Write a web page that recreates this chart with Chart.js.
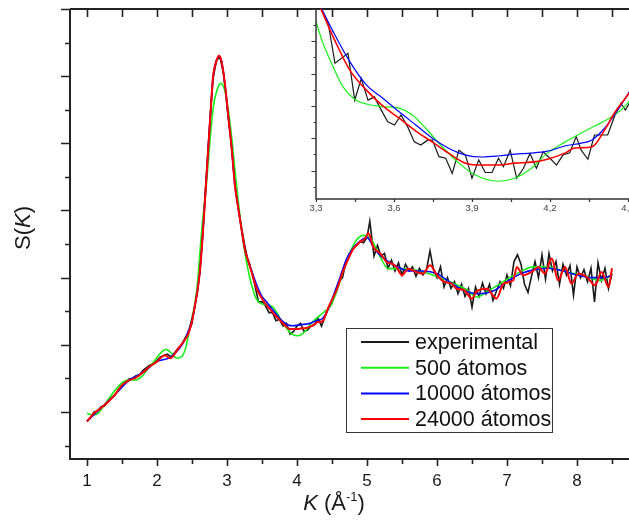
<!DOCTYPE html>
<html>
<head>
<meta charset="utf-8">
<script src="https://cdn.jsdelivr.net/npm/chart.js@4.4.1/dist/chart.umd.min.js"></script>
<style>
html, body { margin: 0; padding: 0; background: #fff; }
#wrap { position: relative; width: 629px; height: 520px; overflow: hidden; }
#graph { position: absolute; left: 0; top: 0; }
#inset { position: absolute; left: 290px; top: 0; }
</style>
</head>
<body>
<div id="wrap">
<canvas id="graph" width="629" height="520"></canvas>
<canvas id="inset" width="339" height="220"></canvas>
</div>
<script>
// series names and colours
const seriesLabels = ['experimental', '500 átomos', '10000 átomos', '24000 átomos'];
const seriesColors = ['#1a1a1a', '#19f019', '#0000ff', '#ff0000'];

// tick values
const xTicks = [1, 2, 3, 4, 5, 6, 7, 8];
const xMinorTicks = [1.5, 2.5, 3.5, 4.5, 5.5, 6.5, 7.5, 8.5];
const yTicks = [0.5, 1, 1.5, 2, 2.5, 3, 3.5];
const yMinorTicks = [0.25, 0.75, 1.25, 1.75, 2.25, 2.75, 3.25];
const insetXTicks = [3.3, 3.6, 3.9, 4.2, 4.5];
const insetXMinor = [3.45, 3.75, 4.05, 4.35];
const insetYTicks = [1.1, 1.2, 1.3, 1.4, 1.5, 1.6];
const insetYMinor = [1.05, 1.15, 1.25, 1.35, 1.45, 1.55];

// experimental S(K)
const kExp = [
  1.00, 1.05, 1.10, 1.15, 1.20, 1.25, 1.30, 1.35, 1.40, 1.45,
  1.50, 1.55, 1.60, 1.65, 1.70, 1.75, 1.80, 1.85, 1.90, 1.95,
  2.00, 2.05, 2.10, 2.15, 2.20, 2.25, 2.30, 2.35, 2.40, 2.45,
  2.50, 2.55, 2.60, 2.65, 2.70, 2.75, 2.80, 2.85, 2.90, 2.95,
  3.00, 3.05, 3.10, 3.15, 3.20, 3.25, 3.30, 3.35, 3.40, 3.45,
  3.50, 3.55, 3.60, 3.65, 3.70, 3.75, 3.80, 3.85, 3.90, 3.95,
  4.00, 4.05, 4.10, 4.15, 4.20, 4.25, 4.30, 4.35, 4.40, 4.45,
  4.50, 4.55, 4.60, 4.65, 4.70, 4.75, 4.80, 4.85, 4.90, 4.95,
  5.00, 5.04, 5.10, 5.15, 5.20, 5.25, 5.30, 5.35, 5.40, 5.45,
  5.50, 5.55, 5.60, 5.65, 5.70, 5.75, 5.80, 5.85, 5.90, 5.95,
  6.00, 6.05, 6.10, 6.15, 6.20, 6.25, 6.30, 6.35, 6.40, 6.45,
  6.50, 6.55, 6.60, 6.65, 6.70, 6.75, 6.80, 6.85, 6.90, 6.95,
  7.00, 7.05, 7.10, 7.15, 7.20, 7.25, 7.30, 7.35, 7.40, 7.45,
  7.50, 7.55, 7.60, 7.65, 7.70, 7.75, 7.80, 7.85, 7.90, 7.95,
  8.00, 8.05, 8.10, 8.15, 8.20, 8.25, 8.30, 8.35, 8.40, 8.45,
  8.50
];
const sExp = [
  0.43, 0.46, 0.50, 0.505, 0.54, 0.545, 0.58, 0.605, 0.625, 0.67,
  0.695, 0.72, 0.745, 0.75, 0.77, 0.775, 0.81, 0.83, 0.85, 0.86,
  0.885, 0.91, 0.92, 0.93, 0.91, 0.94, 0.975, 1.00, 1.05, 1.09,
  1.16, 1.32, 1.49, 1.80, 2.22, 2.62, 2.98, 3.12, 3.14, 3.02,
  2.78, 2.56, 2.27, 2.06, 1.89, 1.75, 1.62, 1.55, 1.44, 1.32,
  1.32, 1.29, 1.24, 1.24, 1.18, 1.19, 1.14, 1.16, 1.08, 1.10,
  1.14, 1.16, 1.10, 1.11, 1.14, 1.15, 1.20, 1.14, 1.21, 1.27,
  1.31, 1.40, 1.47, 1.50, 1.62, 1.68, 1.72, 1.74, 1.77, 1.76,
  1.80, 1.92, 1.66, 1.74, 1.66, 1.68, 1.57, 1.63, 1.55, 1.61,
  1.52, 1.60, 1.55, 1.58, 1.51, 1.57, 1.52, 1.56, 1.70, 1.56,
  1.50, 1.58, 1.43, 1.50, 1.42, 1.47, 1.38, 1.45, 1.36, 1.42,
  1.28, 1.43, 1.36, 1.46, 1.38, 1.45, 1.33, 1.40, 1.47, 1.42,
  1.52, 1.44, 1.62, 1.67, 1.60, 1.45, 1.39, 1.51, 1.62, 1.50,
  1.67, 1.49, 1.68, 1.55, 1.62, 1.45, 1.60, 1.52, 1.59, 1.37,
  1.58, 1.50, 1.56, 1.47, 1.57, 1.32, 1.61, 1.48, 1.57, 1.42,
  1.53
];

// experimental, finer sampling
const kExpZoom = [
  3.290, 3.315, 3.347, 3.373, 3.423, 3.449, 3.474, 3.500, 3.525, 3.551,
  3.576, 3.602, 3.627, 3.652, 3.678, 3.703, 3.729, 3.748, 3.773, 3.799,
  3.824, 3.850, 3.875, 3.900, 3.926, 3.951, 3.977, 4.002, 4.021, 4.047,
  4.072, 4.098, 4.123, 4.148, 4.174, 4.200, 4.225, 4.250, 4.276, 4.301,
  4.320, 4.346, 4.371, 4.397, 4.422, 4.448, 4.473, 4.490, 4.520
];
const sExpZoom = [
  1.660, 1.607, 1.556, 1.432, 1.463, 1.318, 1.385, 1.318, 1.328, 1.287,
  1.251, 1.241, 1.272, 1.236, 1.189, 1.179, 1.194, 1.194, 1.143, 1.138,
  1.091, 1.163, 1.148, 1.076, 1.133, 1.094, 1.094, 1.138, 1.112, 1.163,
  1.076, 1.107, 1.153, 1.107, 1.158, 1.138, 1.117, 1.148, 1.155, 1.205,
  1.163, 1.135, 1.210, 1.210, 1.210, 1.267, 1.308, 1.287, 1.330
];

// 500 atoms
const kGreen = [
  1.00, 1.09, 1.16, 1.233, 1.33, 1.424, 1.52, 1.59, 1.686, 1.78,
  1.876, 1.97, 2.067, 2.13, 2.21, 2.28, 2.353, 2.414, 2.47, 2.567,
  2.64, 2.71, 2.757, 2.804, 2.853, 2.91, 2.97, 3.02, 3.067, 3.114,
  3.16, 3.21, 3.257, 3.30, 3.327, 3.366, 3.404, 3.449, 3.494, 3.557,
  3.62, 3.671, 3.722, 3.786, 3.85, 3.913, 4.00, 4.066, 4.13, 4.19,
  4.257, 4.32, 4.38, 4.448, 4.49, 4.57, 4.66, 4.76, 4.85, 4.95,
  5.04, 5.19, 5.30, 5.47, 5.71, 5.95, 6.19, 6.42, 6.57, 6.71,
  6.90, 7.14, 7.38, 7.57, 7.85, 8.09, 8.33, 8.50
];
const sGreen = [
  0.49, 0.478, 0.49, 0.54, 0.614, 0.676, 0.725, 0.738, 0.738, 0.762,
  0.825, 0.886, 0.948, 0.966, 0.936, 0.90, 0.912, 0.985, 1.134, 1.40,
  1.86, 2.22, 2.52, 2.77, 2.89, 2.946, 2.89, 2.744, 2.545, 2.298,
  2.075, 1.852, 1.68, 1.561, 1.494, 1.421, 1.359, 1.321, 1.306, 1.298,
  1.293, 1.272, 1.231, 1.173, 1.123, 1.086, 1.067, 1.077, 1.108, 1.154,
  1.188, 1.216, 1.241, 1.272, 1.30, 1.40, 1.55, 1.69, 1.78, 1.815,
  1.80, 1.654, 1.567, 1.567, 1.555, 1.518, 1.468, 1.412, 1.356, 1.394,
  1.456, 1.53, 1.58, 1.58, 1.542, 1.518, 1.48, 1.518
];

// 10000 atoms
const kBlue = [
  1.00, 1.20, 1.40, 1.60, 1.80, 2.00, 2.20, 2.40, 2.52, 2.61,
  2.66, 2.71, 2.76, 2.80, 2.85, 2.886, 2.92, 2.97, 3.02, 3.07,
  3.11, 3.16, 3.21, 3.26, 3.315, 3.366, 3.43, 3.494, 3.557, 3.62,
  3.684, 3.748, 3.81, 3.875, 3.94, 4.00, 4.066, 4.13, 4.19, 4.257,
  4.32, 4.36, 4.41, 4.448, 4.49, 4.60, 4.70, 4.80, 4.90, 5.00,
  5.10, 5.20, 5.40, 5.60, 5.80, 6.00, 6.20, 6.40, 6.60, 6.80,
  7.00, 7.20, 7.40, 7.60, 7.80, 8.00, 8.20, 8.40, 8.50
];
const sBlue = [
  0.43, 0.53, 0.63, 0.735, 0.795, 0.875, 0.91, 1.04, 1.23, 1.53,
  1.87, 2.28, 2.69, 2.99, 3.115, 3.15, 3.115, 2.944, 2.69, 2.446,
  2.20, 2.02, 1.852, 1.70, 1.612, 1.53, 1.437, 1.365, 1.324, 1.282,
  1.241, 1.20, 1.169, 1.148, 1.142, 1.145, 1.151, 1.154, 1.160, 1.176,
  1.185, 1.194, 1.231, 1.272, 1.324, 1.48, 1.63, 1.72, 1.77, 1.80,
  1.72, 1.66, 1.59, 1.55, 1.55, 1.53, 1.46, 1.40, 1.38, 1.40,
  1.47, 1.53, 1.56, 1.57, 1.55, 1.52, 1.50, 1.50, 1.52
];

// 24000 atoms
const kRed = [
  1.00, 1.10, 1.20, 1.30, 1.40, 1.50, 1.60, 1.70, 1.80, 1.90,
  2.00, 2.11, 2.19, 2.30, 2.40, 2.45, 2.52, 2.61, 2.66, 2.71,
  2.76, 2.80, 2.85, 2.886, 2.92, 2.97, 3.02, 3.07, 3.11, 3.16,
  3.21, 3.26, 3.315, 3.366, 3.43, 3.494, 3.557, 3.62, 3.684, 3.748,
  3.81, 3.875, 3.94, 4.00, 4.066, 4.13, 4.19, 4.257, 4.295, 4.36,
  4.41, 4.448, 4.49, 4.567, 4.66, 4.733, 4.80, 4.90, 4.97, 5.02,
  5.09, 5.19, 5.28, 5.35, 5.42, 5.50, 5.59, 5.71, 5.80, 5.90,
  6.00, 6.11, 6.21, 6.28, 6.38, 6.50, 6.57, 6.71, 6.85, 6.95,
  7.09, 7.14, 7.23, 7.35, 7.45, 7.54, 7.64, 7.73, 7.83, 7.92,
  8.02, 8.14, 8.26, 8.35, 8.45, 8.50
];
const sRed = [
  0.43, 0.49, 0.53, 0.575, 0.63, 0.70, 0.735, 0.755, 0.795, 0.84,
  0.875, 0.922, 0.90, 0.97, 1.04, 1.085, 1.23, 1.53, 1.87, 2.28,
  2.69, 2.99, 3.115, 3.152, 3.115, 2.944, 2.69, 2.446, 2.20, 2.02,
  1.852, 1.70, 1.607, 1.514, 1.411, 1.349, 1.30, 1.262, 1.222, 1.188,
  1.154, 1.123, 1.117, 1.117, 1.123, 1.126, 1.135, 1.154, 1.170, 1.173,
  1.225, 1.278, 1.324, 1.41, 1.55, 1.64, 1.71, 1.765, 1.79, 1.83,
  1.728, 1.68, 1.617, 1.605, 1.58, 1.518, 1.567, 1.542, 1.53, 1.592,
  1.518, 1.468, 1.456, 1.418, 1.41, 1.345, 1.40, 1.418, 1.345, 1.456,
  1.48, 1.58, 1.518, 1.542, 1.58, 1.53, 1.642, 1.48, 1.58, 1.456,
  1.53, 1.505, 1.443, 1.542, 1.431, 1.57
];

function pts(k, s) {
  return k.map((v, i) => ({ x: v, y: s[i] }));
}

function makeSets(expK, expS, width) {
  return [
    { label: seriesLabels[0], data: pts(expK, expS), borderColor: seriesColors[0], borderWidth: width, tension: 0, order: 4 },
    { label: seriesLabels[1], data: pts(kGreen, sGreen), borderColor: seriesColors[1], borderWidth: width, cubicInterpolationMode: 'monotone', order: 3 },
    { label: seriesLabels[2], data: pts(kBlue, sBlue), borderColor: seriesColors[2], borderWidth: width, cubicInterpolationMode: 'monotone', order: 2 },
    { label: seriesLabels[3], data: pts(kRed, sRed), borderColor: seriesColors[3], borderWidth: width + 0.4, cubicInterpolationMode: 'monotone', order: 1 }
  ];
}

const FONT = '"Liberation Sans", Arial, sans-serif';

function drawRich(ctx, parts, cx, cy) {
  let w = 0;
  parts.forEach(p => { ctx.font = p.f; w += ctx.measureText(p.t).width; });
  let x = cx - w / 2;
  ctx.textBaseline = 'middle';
  ctx.textAlign = 'left';
  parts.forEach(p => {
    ctx.font = p.f;
    ctx.fillText(p.t, x, cy + (p.dy || 0));
    x += ctx.measureText(p.t).width;
  });
}

function tick(ctx, x1, y1, x2, y2) {
  ctx.moveTo(x1, y1);
  ctx.lineTo(x2, y2);
}

// keep the plot area fixed, let edge labels run off the canvas
function noEdgePad(s) {
  s.paddingLeft = 0;
  s.paddingRight = 0;
}

const mainDecor = {
  id: 'mainDecor',
  afterDraw(chart) {
    const ctx = chart.ctx;
    const a = chart.chartArea;
    const x = chart.scales.x, y = chart.scales.y;
    ctx.save();
    ctx.strokeStyle = '#222';
    ctx.lineWidth = 2;
    ctx.beginPath();
    tick(ctx, a.left, a.top, a.right, a.top);
    ctx.moveTo(a.left, a.top);
    ctx.lineTo(a.left, a.bottom);
    ctx.lineTo(a.right, a.bottom);
    ctx.stroke();

    ctx.lineWidth = 1.6;
    ctx.beginPath();
    xTicks.concat(xMinorTicks).forEach(v => {
      const px = Math.round(x.getPixelForValue(v)) + 0.5;
      tick(ctx, px, a.top, px, a.top + 8);
    });
    xTicks.forEach(v => {
      const px = Math.round(x.getPixelForValue(v)) + 0.5;
      tick(ctx, px, a.bottom, px, a.bottom + 7);
    });
    xMinorTicks.forEach(v => {
      const px = Math.round(x.getPixelForValue(v)) + 0.5;
      tick(ctx, px, a.bottom, px, a.bottom + 5);
    });
    yTicks.forEach(v => {
      const py = Math.round(y.getPixelForValue(v)) + 0.5;
      tick(ctx, a.left - 9, py, a.left, py);
    });
    yMinorTicks.forEach(v => {
      const py = Math.round(y.getPixelForValue(v)) + 0.5;
      tick(ctx, a.left - 5, py, a.left, py);
    });
    ctx.stroke();

    // axis titles
    ctx.fillStyle = '#1a1a1a';
    drawRich(ctx, [
      { t: 'K', f: 'italic 22px ' + FONT },
      { t: ' (Å', f: '22px ' + FONT },
      { t: '-1', f: '13px ' + FONT, dy: -7 },
      { t: ')', f: '22px ' + FONT }
    ], 334, 504);
    ctx.save();
    ctx.translate(24, 228);
    ctx.rotate(-Math.PI / 2);
    drawRich(ctx, [
      { t: 'S(', f: '22px ' + FONT },
      { t: 'K', f: 'italic 22px ' + FONT },
      { t: ')', f: '22px ' + FONT }
    ], 0, 0);
    ctx.restore();

    // legend
    const bx = 346.5, by = 328.5, bw = 206, bh = 104;
    ctx.fillStyle = '#fff';
    ctx.fillRect(bx, by, bw, bh);
    ctx.strokeStyle = '#333';
    ctx.lineWidth = 1;
    ctx.strokeRect(bx, by, bw, bh);
    chart.data.datasets.forEach((ds, i) => {
      const ry = 342 + i * 25.7;
      ctx.strokeStyle = ds.borderColor;
      ctx.lineWidth = 2;
      ctx.beginPath();
      tick(ctx, 361, ry, 409, ry);
      ctx.stroke();
      ctx.fillStyle = '#111';
      ctx.font = '21.5px ' + FONT;
      ctx.textBaseline = 'middle';
      ctx.textAlign = 'left';
      ctx.fillText(ds.label, 415, ry + 1);
    });
    ctx.restore();
  }
};

const insetDecor = {
  id: 'insetDecor',
  afterDraw(chart) {
    const ctx = chart.ctx;
    const a = chart.chartArea;
    const x = chart.scales.x, y = chart.scales.y;
    ctx.save();
    ctx.strokeStyle = '#333';
    ctx.lineWidth = 1.5;
    ctx.beginPath();
    ctx.moveTo(a.left, a.top);
    ctx.lineTo(a.left, a.bottom);
    ctx.lineTo(a.right, a.bottom);
    ctx.stroke();
    ctx.lineWidth = 1.2;
    ctx.beginPath();
    insetXTicks.concat(insetXMinor).forEach(v => {
      const px = Math.round(x.getPixelForValue(v)) + 0.5;
      tick(ctx, px, a.bottom, px, a.bottom + 3);
    });
    insetYTicks.forEach(v => {
      const py = Math.round(y.getPixelForValue(v)) + 0.5;
      tick(ctx, a.left - 4.5, py, a.left, py);
    });
    insetYMinor.forEach(v => {
      const py = Math.round(y.getPixelForValue(v)) + 0.5;
      tick(ctx, a.left - 2.5, py, a.left, py);
    });
    ctx.stroke();
    ctx.restore();
  }
};

new Chart(document.getElementById('graph'), {
  type: 'line',
  data: { datasets: makeSets(kExp, sExp, 1.6) },
  options: {
    responsive: false,
    animation: false,
    devicePixelRatio: 1,
    layout: { padding: { top: 9, left: 0, right: 0, bottom: 0 } },
    elements: { point: { radius: 0 } },
    plugins: { legend: { display: false }, tooltip: { enabled: false } },
    scales: {
      x: {
        type: 'linear', min: 0.757, max: 8.743,
        grid: { display: false, drawTicks: false },
        border: { display: false },
        afterBuildTicks: s => { s.ticks = xTicks.map(v => ({ value: v })); },
        afterFit: s => { s.height = 61; noEdgePad(s); },
        ticks: { autoSkip: false, maxRotation: 0, padding: 12, color: '#1a1a1a', font: { family: FONT, size: 17 } }
      },
      y: {
        type: 'linear', min: 0.15, max: 3.5,
        grid: { display: false, drawTicks: false },
        border: { display: false },
        ticks: { display: false },
        afterFit: s => { s.width = 70; }
      }
    }
  },
  plugins: [mainDecor]
});

new Chart(document.getElementById('inset'), {
  type: 'line',
  data: { datasets: makeSets(kExpZoom, sExpZoom, 1.2) },
  options: {
    responsive: false,
    animation: false,
    devicePixelRatio: 1,
    layout: { padding: { top: 9, left: 0, right: 0, bottom: 0 } },
    elements: { point: { radius: 0 } },
    plugins: { legend: { display: false }, tooltip: { enabled: false } },
    scales: {
      x: {
        type: 'linear', min: 3.3, max: 4.504,
        grid: { display: false, drawTicks: false },
        border: { display: false },
        afterBuildTicks: s => { s.ticks = insetXTicks.map(v => ({ value: v })); },
        afterFit: s => { s.height = 21; noEdgePad(s); },
        ticks: {
          autoSkip: false, maxRotation: 0, padding: 4, color: '#444',
          font: { family: FONT, size: 9.5 },
          callback: v => v.toFixed(1).replace('.', ',')
        }
      },
      y: {
        type: 'linear', min: 1.012, max: 1.6,
        grid: { display: false, drawTicks: false },
        border: { display: false },
        ticks: { display: false },
        afterFit: s => { s.width = 26; }
      }
    }
  },
  plugins: [insetDecor]
});
</script>
</body>
</html>
